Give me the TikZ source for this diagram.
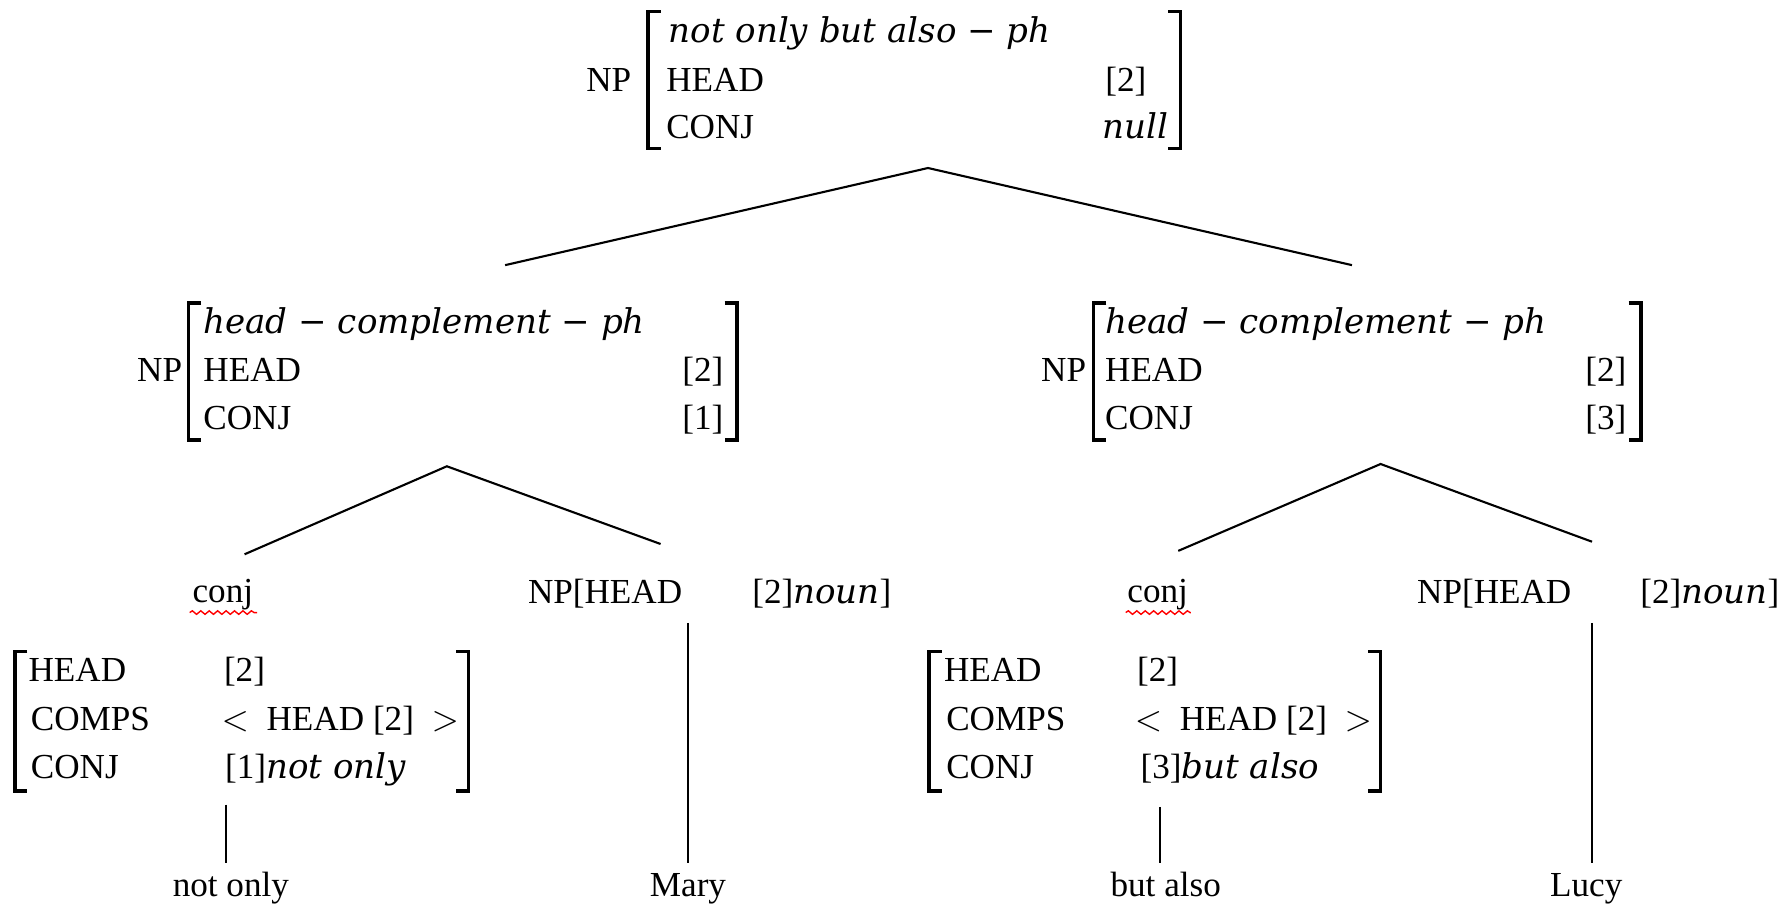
\documentclass[tikz,border=0pt]{standalone}
\usepackage{fontspec}
\setmainfont{Liberation Serif}
\newfontfamily\itfam{DejaVu Serif}
\newcommand\ital[1]{{\itfam\itshape\fontsize{9.7}{11}\selectfont #1}}
\usetikzlibrary{decorations.pathmorphing}
\begin{document}
\begin{tikzpicture}[x=0.011429cm,y=-0.011429cm,
  txt/.style={inner sep=0pt, outer sep=0pt, anchor=base west, font=\fontsize{10}{12}\selectfont},
  rtxt/.style={txt, anchor=base east},
  ctxt/.style={txt, anchor=base},
  brk/.style={line width=1pt},
  edge/.style={line width=0.6pt},
  wavy/.style={red, line width=0.4pt, decorate, decoration={snake, amplitude=0.5pt, segment length=2.4pt}}]
\useasboundingbox (0,0) rectangle (1568,792);

% ---------- top AVM ----------
\node[txt] (np0) at (513,80) {NP};
\draw[brk] (578,10) -- (567,10) -- (567,130) -- (578,130);
\node[txt] (t0) at (585,37) {\ital{not only but also − ph}};
\node[txt] (h0) at (583,80) {HEAD};
\node[txt] (c0) at (583,121) {CONJ};
\node[rtxt] (h0v) at (1003,80) {[2]};
\node[rtxt] (c0v) at (1022,121) {\ital{null}};
\draw[brk] (1022,10) -- (1033,10) -- (1033,130) -- (1022,130);

\coordinate (a0) at (812,147);
\coordinate (l0) at (442,232);
\coordinate (r0) at (1183,232);
\draw[edge] (l0) -- (a0) -- (r0);

% ---------- middle left AVM ----------
\node[txt] (np1) at (120,334) {NP};
\draw[brk] (176,265) -- (165,265) -- (165,385) -- (176,385);
\node[txt] (t1) at (178,292) {\ital{head − complement − ph}};
\node[txt] (h1) at (178,334) {HEAD};
\node[txt] (c1) at (178,376) {CONJ};
\node[rtxt] (h1v) at (633,334) {[2]};
\node[rtxt] (c1v) at (633,376) {[1]};
\draw[brk] (634,265) -- (645,265) -- (645,385) -- (634,385);

% ---------- middle right AVM ----------
\node[txt] (np2) at (911,334) {NP};
\draw[brk] (968,265) -- (957,265) -- (957,385) -- (968,385);
\node[txt] (t2) at (967,292) {\ital{head − complement − ph}};
\node[txt] (h2) at (967,334) {HEAD};
\node[txt] (c2) at (967,376) {CONJ};
\node[rtxt] (h2v) at (1423,334) {[2]};
\node[rtxt] (c2v) at (1423,376) {[3]};
\draw[brk] (1425,265) -- (1436,265) -- (1436,385) -- (1425,385);

\coordinate (a1) at (391,408);
\coordinate (l1) at (214,485);
\coordinate (r1) at (578,476);
\draw[edge] (l1) -- (a1) -- (r1);
\coordinate (a2) at (1208,406);
\coordinate (l2) at (1031,482);
\coordinate (r2) at (1393,474);
\draw[edge] (l2) -- (a2) -- (r2);

% ---------- bottom left ----------
\node[ctxt] (conj1) at (195,527) {conj};
\draw[wavy] (166,536) -- (225,536);
\node[txt] (npl) at (462,528) {NP[HEAD};
\node[rtxt] (npln) at (780,528) {[2]\ital{noun}]};

\draw[brk] (24,570) -- (13,570) -- (13,692) -- (24,692);
\node[txt] (h3) at (25,596) {HEAD};
\node[txt] (m3) at (27,639) {COMPS};
\node[txt] (c3) at (27,681) {CONJ};
\node[txt] (h3v) at (196,596) {[2]};
\node[txt] (m3v) at (194,639) {$<$\hspace{5pt}HEAD [2]\hspace{5pt}$>$};
\node[txt] (c3v) at (197,681) {[1]\ital{not only}};
\draw[brk] (399,570) -- (410,570) -- (410,692) -- (399,692);

\node[ctxt] (w1) at (202,784) {not only};
\node[ctxt] (w2) at (602,784) {Mary};
\coordinate (v1t) at (198,704);
\coordinate (v1b) at (198,755);
\draw[edge] (v1t) -- (v1b);
\coordinate (v2t) at (602,545);
\coordinate (v2b) at (602,755);
\draw[edge] (v2t) -- (v2b);

% ---------- bottom right ----------
\node[ctxt] (conj2) at (1013,527) {conj};
\draw[wavy] (985,536) -- (1042,536);
\node[txt] (npr) at (1240,528) {NP[HEAD};
\node[rtxt] (nprn) at (1557,528) {[2]\ital{noun}]};

\draw[brk] (824,570) -- (813,570) -- (813,692) -- (824,692);
\node[txt] (h4) at (826,596) {HEAD};
\node[txt] (m4) at (828,639) {COMPS};
\node[txt] (c4) at (828,681) {CONJ};
\node[txt] (h4v) at (995,596) {[2]};
\node[txt] (m4v) at (993,639) {$<$\hspace{5pt}HEAD [2]\hspace{5pt}$>$};
\node[txt] (c4v) at (998,681) {[3]\ital{but also}};
\draw[brk] (1197,570) -- (1208,570) -- (1208,692) -- (1197,692);

\node[ctxt] (w3) at (1020,784) {but also};
\node[ctxt] (w4) at (1388,784) {Lucy};
\coordinate (v3t) at (1015,706);
\coordinate (v3b) at (1015,755);
\draw[edge] (v3t) -- (v3b);
\coordinate (v4t) at (1393,545);
\coordinate (v4b) at (1393,755);
\draw[edge] (v4t) -- (v4b);
\end{tikzpicture}
\end{document}
